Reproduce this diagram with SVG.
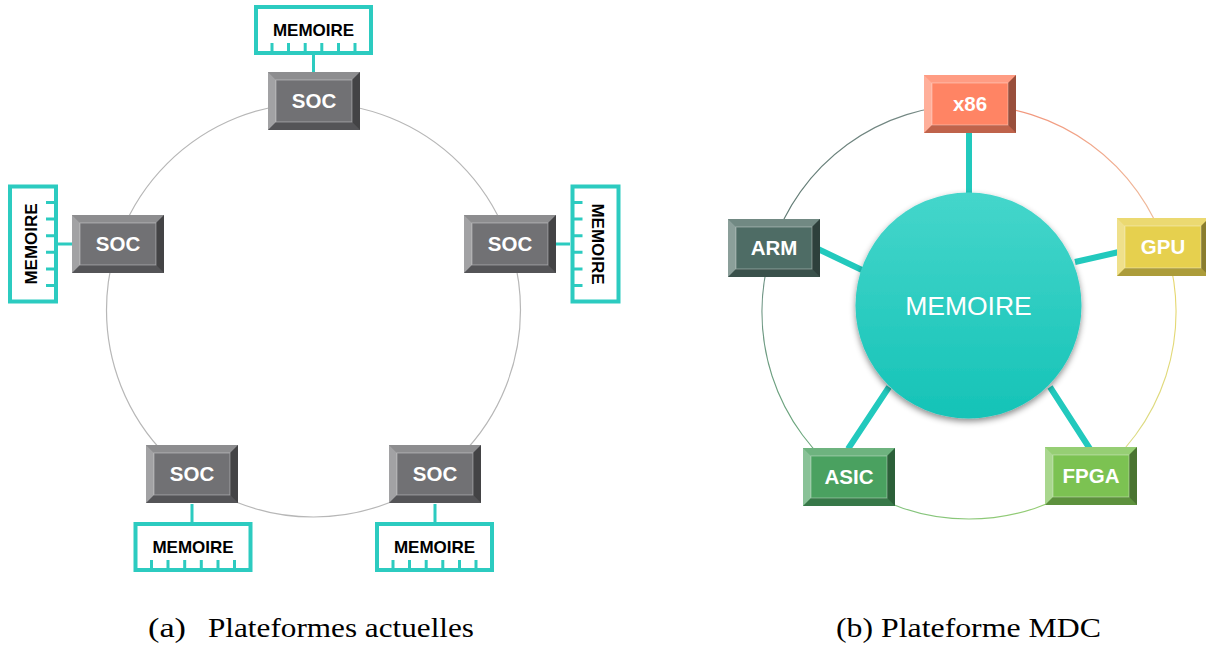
<svg xmlns="http://www.w3.org/2000/svg" xmlns:xlink="http://www.w3.org/1999/xlink" width="1206" height="646" viewBox="0 0 1206 646">
<style>
.ring{fill:none;stroke:#b7b7b7;stroke-width:1.2}
.arc{fill:none;stroke-width:1.1}
.link{stroke:#2ccbc0;stroke-width:3;fill:none}
.spoke{stroke:#22c9bd;stroke-width:6;fill:none}
.mem{fill:#fff;stroke:#2ccbc0;stroke-width:4}
.tick{stroke:#2ccbc0;stroke-width:3}
.memtxt{font-family:"Liberation Sans",Arial,sans-serif;font-weight:bold;font-size:17px;fill:#000;text-anchor:middle}
.lbl{font-family:"Liberation Sans",Arial,sans-serif;font-weight:bold;font-size:20.5px;fill:#fff;text-anchor:middle}
.big{font-family:"Liberation Sans",Arial,sans-serif;font-size:26.5px;fill:#fff;text-anchor:middle}
.cap{font-family:"Liberation Serif","Times New Roman",serif;font-size:28px;fill:#000}
.soc{fill:#717174}
</style>
<defs>
<symbol id="bevel" viewBox="0 0 92 58" width="92" height="58" overflow="visible">
<polygon points="0,0 92,0 84,8 8,8" fill="#fff" fill-opacity="0.2"/>
<polygon points="0,0 8,8 8,50 0,58" fill="#fff" fill-opacity="0.35"/>
<polygon points="92,0 92,58 84,50 84,8" fill="#000" fill-opacity="0.4"/>
<polygon points="0,58 92,58 84,50 8,50" fill="#000" fill-opacity="0.25"/>
<rect x="8" y="8" width="76" height="42" fill="none" stroke="#fff" stroke-opacity="0.35" stroke-width="1"/>
</symbol>
<g id="memshape">
<rect class="mem" x="-57.5" y="-23" width="115" height="46"/>
<path class="tick" d="M-41.5 23V13M-25 23V13M-8.3 23V13M8.3 23V13M25 23V13M41.5 23V13"/>
</g>
<linearGradient id="gBall" x1="0" y1="0" x2="0" y2="1">
<stop offset="0" stop-color="#45d6cb"/>
<stop offset="1" stop-color="#15c3b7"/>
</linearGradient>
<filter id="shadow" x="-20%" y="-20%" width="140%" height="140%">
<feDropShadow dx="0" dy="3" stdDeviation="3" flood-color="#000" flood-opacity="0.45"/>
</filter>
<linearGradient id="a1" gradientUnits="userSpaceOnUse" x1="969" y1="105" x2="1166" y2="248"><stop offset="0" stop-color="#f38d74"/><stop offset="1" stop-color="#eec0a0"/></linearGradient>
<linearGradient id="a2" gradientUnits="userSpaceOnUse" x1="1166" y1="248" x2="1091" y2="480"><stop offset="0" stop-color="#e8d66a"/><stop offset="1" stop-color="#d8dc8a"/></linearGradient>
<linearGradient id="a3" gradientUnits="userSpaceOnUse" x1="1091" y1="480" x2="847" y2="480"><stop offset="0" stop-color="#9ad070"/><stop offset="1" stop-color="#7cbf80"/></linearGradient>
<linearGradient id="a4" gradientUnits="userSpaceOnUse" x1="847" y1="480" x2="772" y2="248"><stop offset="0" stop-color="#6aae7a"/><stop offset="1" stop-color="#6f8f86"/></linearGradient>
<linearGradient id="a5" gradientUnits="userSpaceOnUse" x1="772" y1="248" x2="969" y2="105"><stop offset="0" stop-color="#5f7a73"/><stop offset="1" stop-color="#7a8c88"/></linearGradient>
</defs>

<!-- (a) connectors -->
<g id="connectors-a">
<circle class="ring" cx="313.5" cy="310" r="207"/>
<path class="link" d="M313.5 55V73M58 244H72M555 244H570M192 504V522M435 504V522"/>
</g>

<g id="soc-top"><rect class="soc" x="268" y="72" width="92" height="58"/><use xlink:href="#bevel" x="268" y="72"/><text class="lbl" x="314" y="108">SOC</text></g>
<g id="soc-left"><rect class="soc" x="72" y="215" width="92" height="58"/><use xlink:href="#bevel" x="72" y="215"/><text class="lbl" x="118" y="251">SOC</text></g>
<g id="soc-right"><rect class="soc" x="464" y="215" width="92" height="58"/><use xlink:href="#bevel" x="464" y="215"/><text class="lbl" x="510" y="251">SOC</text></g>
<g id="soc-bl"><rect class="soc" x="146" y="445" width="92" height="58"/><use xlink:href="#bevel" x="146" y="445"/><text class="lbl" x="192" y="481">SOC</text></g>
<g id="soc-br"><rect class="soc" x="389" y="445" width="92" height="58"/><use xlink:href="#bevel" x="389" y="445"/><text class="lbl" x="435" y="481">SOC</text></g>

<g id="mem-top" transform="translate(313.5,30)"><use xlink:href="#memshape"/><text class="memtxt" x="0" y="6">MEMOIRE</text></g>
<g id="mem-left" transform="translate(33,244) rotate(-90)"><use xlink:href="#memshape"/><text class="memtxt" x="0" y="4">MEMOIRE</text></g>
<g id="mem-right" transform="translate(595.5,244) rotate(90)"><use xlink:href="#memshape"/><text class="memtxt" x="0" y="4">MEMOIRE</text></g>
<g id="mem-bl" transform="translate(193,547)"><use xlink:href="#memshape"/><text class="memtxt" x="0" y="6">MEMOIRE</text></g>
<g id="mem-br" transform="translate(434.5,547)"><use xlink:href="#memshape"/><text class="memtxt" x="0" y="6">MEMOIRE</text></g>

<!-- (b) connectors -->
<g id="connectors-b">
<path class="arc" stroke="url(#a1)" d="M969 105A207 207 0 0 1 1165.9 248"/>
<path class="arc" stroke="url(#a2)" d="M1165.9 248A207 207 0 0 1 1090.7 479.5"/>
<path class="arc" stroke="url(#a3)" d="M1090.7 479.5A207 207 0 0 1 847.3 479.5"/>
<path class="arc" stroke="url(#a4)" d="M847.3 479.5A207 207 0 0 1 772.1 248"/>
<path class="arc" stroke="url(#a5)" d="M772.1 248A207 207 0 0 1 969 105"/>
<path class="spoke" d="M969 132V196M818 249L862 270M1075 262L1119 252M848 449L889 387M1050 387L1090 449"/>
</g>

<g id="memoire-center">
<circle cx="968.5" cy="305.5" r="113" fill="url(#gBall)" filter="url(#shadow)"/>
<text class="big" x="968.5" y="314.5">MEMOIRE</text>
</g>

<g id="x86"><rect x="924" y="75" width="92" height="58" fill="#ff8464"/><use xlink:href="#bevel" x="924" y="75"/><text class="lbl" x="970" y="111">x86</text></g>
<g id="arm"><rect x="728" y="219" width="92" height="58" fill="#4e6c65"/><use xlink:href="#bevel" x="728" y="219"/><text class="lbl" x="774" y="255">ARM</text></g>
<g id="gpu"><rect x="1117" y="218" width="92" height="58" fill="#e6d04e"/><use xlink:href="#bevel" x="1117" y="218"/><text class="lbl" x="1163" y="254">GPU</text></g>
<g id="asic"><rect x="803" y="448" width="92" height="58" fill="#4aa160"/><use xlink:href="#bevel" x="803" y="448"/><text class="lbl" x="849" y="484">ASIC</text></g>
<g id="fpga"><rect x="1045" y="447" width="92" height="58" fill="#7cc252"/><use xlink:href="#bevel" x="1045" y="447"/><text class="lbl" x="1091" y="483">FPGA</text></g>

<g id="captions">
<text class="cap" x="148" y="637" textLength="38" lengthAdjust="spacingAndGlyphs">(a)</text>
<text class="cap" x="208" y="637" textLength="266" lengthAdjust="spacingAndGlyphs">Plateformes actuelles</text>
<text class="cap" x="836" y="637" textLength="265" lengthAdjust="spacingAndGlyphs">(b) Plateforme MDC</text>
</g>
</svg>
